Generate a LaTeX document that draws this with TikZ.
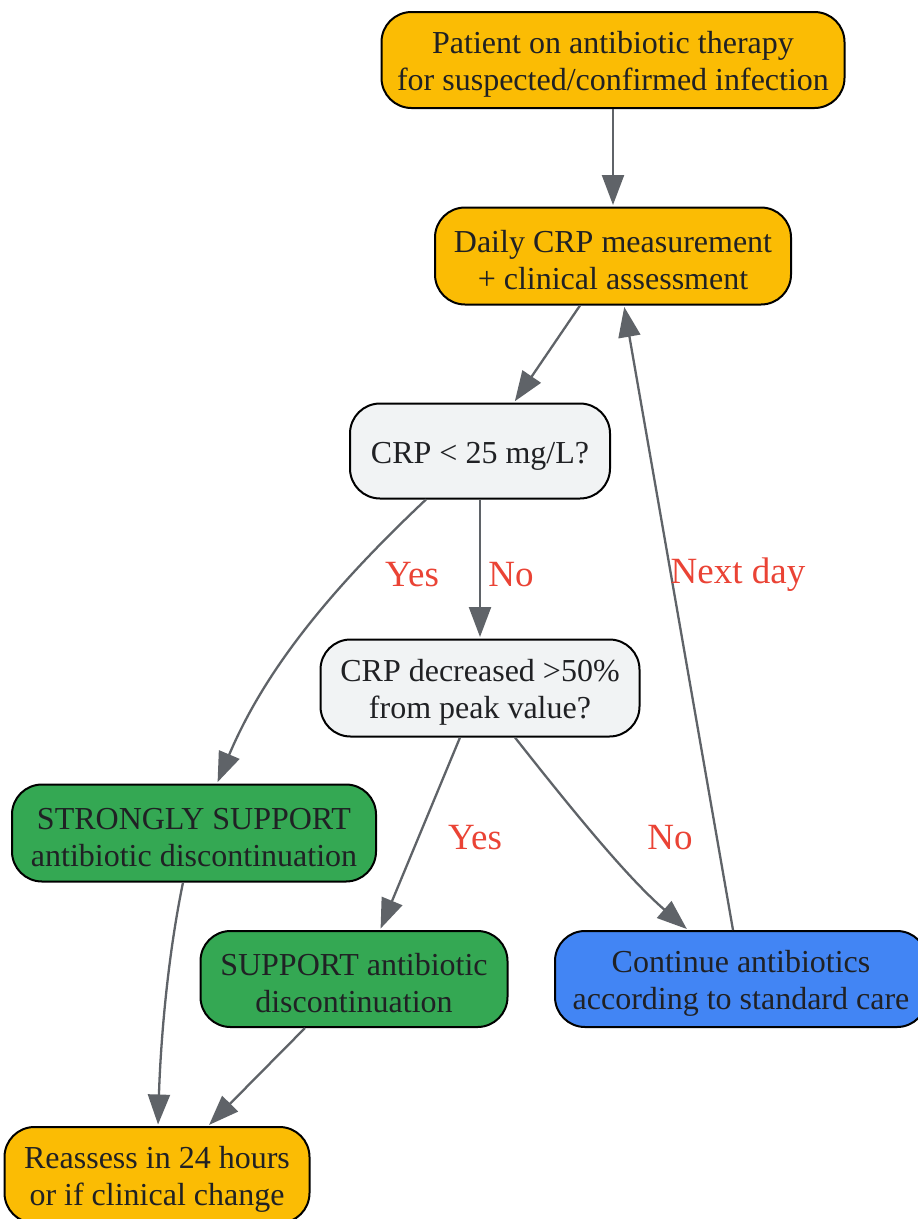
\documentclass[tikz,border=0pt]{standalone}
\usepackage{fontspec}
\setmainfont{Liberation Serif}
\usetikzlibrary{arrows.meta}
\definecolor{cyellow}{HTML}{FBBC04}
\definecolor{cgray}{HTML}{F1F3F4}
\definecolor{cgreen}{HTML}{34A853}
\definecolor{cblue}{HTML}{4285F4}
\definecolor{cedge}{HTML}{5F6368}
\definecolor{clabel}{HTML}{EA4335}
\definecolor{ctext}{HTML}{202124}
\newcommand{\Ft}{\rule{0pt}{31pt}}
\begin{document}
\begin{tikzpicture}[x=1pt,y=-1pt,
  box/.style={draw=black,line width=2pt,rounded corners=30pt,align=center,
    text=ctext,inner sep=0pt,font=\fontsize{32}{37}\selectfont},
  conn/.style={draw=cedge,line width=2.3pt,shorten >=1.5pt,-{Triangle[length=30pt,width=22pt]}},
  lbl/.style={text=clabel,font=\fontsize{37}{42}\selectfont,inner sep=0pt}]
\useasboundingbox (0,0) rectangle (918,1219);
\node[box,fill=cyellow,minimum width=463pt,minimum height=96pt] (n1) at (613,60)
  {\Ft Patient on antibiotic therapy\\for suspected/confirmed infection};
\node[box,fill=cyellow,minimum width=356pt,minimum height=97pt] (n2) at (613,256)
  {\Ft Daily CRP measurement\\+ clinical assessment};
\node[box,fill=cgray,minimum width=260pt,minimum height=95pt] (n3) at (480,451)
  {\Ft CRP < 25 mg/L?};
\node[box,fill=cgray,minimum width=319pt,minimum height=97pt] (n4) at (480,688)
  {\Ft CRP decreased >50\%\\from peak value?};
\node[box,fill=cgreen,minimum width=364pt,minimum height=97pt] (n5) at (194,833)
  {\Ft STRONGLY SUPPORT\\antibiotic discontinuation};
\node[box,fill=cgreen,minimum width=307pt,minimum height=96pt] (n6) at (354,979)
  {\Ft SUPPORT antibiotic\\discontinuation};
\node[box,fill=cblue,minimum width=372pt,minimum height=96pt] (n7) at (741,979)
  {\Ft Continue antibiotics\\according to standard care};
\node[box,fill=cyellow,minimum width=305pt,minimum height=96pt] (n8) at (157,1175)
  {\Ft Reassess in 24 hours\\or if clinical change};

\draw[conn] (n1) -- (n2);
\draw[conn] ([xshift=-33pt]n2.south) -- ([xshift=34pt]n3.north);
\draw[conn] ([xshift=-54pt]n3.south) .. controls (330,590) and (265,670) .. ([xshift=23pt]n5.north);
\draw[conn] (n3) -- (n4);
\draw[conn] ([xshift=-20pt]n4.south) -- ([xshift=26pt]n6.north);
\draw[conn] ([xshift=35pt]n4.south) .. controls (580,820) and (630,880) .. ([xshift=-53pt]n7.north);
\draw[conn] ([xshift=-8pt]n7.north) -- ([xshift=11pt]n2.south);
\draw[conn] ([xshift=-11pt]n5.south) .. controls (165,970) and (160,1060) .. ([xshift=1pt]n8.north);
\draw[conn] ([xshift=-49pt]n6.south) -- ([xshift=51pt]n8.north);

\node[lbl] (l1) at (412,575) {Yes};
\node[lbl] (l2) at (511,575) {No};
\node[lbl] (l3) at (738,575) {Next day};
\node[lbl] (l4) at (475,838) {Yes};
\node[lbl] (l5) at (670,838) {No};
\end{tikzpicture}
\end{document}
